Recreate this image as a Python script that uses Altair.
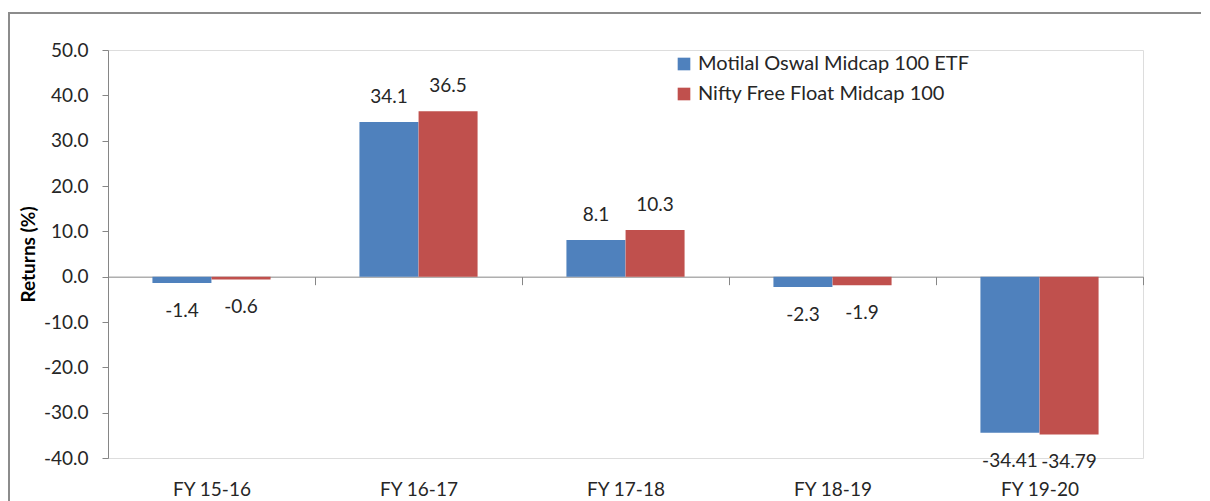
import altair as alt
import pandas as pd

categories = ["FY 15-16", "FY 16-17", "FY 17-18", "FY 18-19", "FY 19-20"]
series_names = ["Motilal Oswal Midcap 100 ETF", "Nifty Free Float Midcap 100"]
etf_values = [-1.4, 34.1, 8.1, -2.3, -34.41]
index_values = [-0.6, 36.5, 10.3, -1.9, -34.79]
etf_labels = ["-1.4", "34.1", "8.1", "-2.3", "-34.41"]
index_labels = ["-0.6", "36.5", "10.3", "-1.9", "-34.79"]
y_ticks = [-40, -30, -20, -10, 0, 10, 20, 30, 40, 50]
colors = ["#4F81BD", "#C0504D"]

rows = []
for i, c in enumerate(categories):
    rows.append({"cat": c, "series": series_names[0], "value": etf_values[i], "label": etf_labels[i]})
    rows.append({"cat": c, "series": series_names[1], "value": index_values[i], "label": index_labels[i]})
df = pd.DataFrame(rows)

FONT = "Lato"
W, H = 1035, 408
zero_px = H * 50 / 90.0

x_enc = alt.X(
    "cat:N", sort=categories, title=None,
    scale=alt.Scale(paddingInner=0, paddingOuter=0),
    axis=alt.Axis(
        orient="bottom", offset=-(H - zero_px), domainColor="#868686", domainWidth=1,
        tickColor="#868686", tickSize=8, tickBand="extent", labelAngle=0,
        labelPadding=196, labelFontSize=19, labelColor="#262626", labelFont=FONT,
    ),
)
xo_enc = alt.XOffset("series:N", sort=series_names,
                     scale=alt.Scale(paddingInner=0, paddingOuter=0.75))
y_enc = alt.Y(
    "value:Q", title="Returns (%)",
    scale=alt.Scale(domain=[-40, 50], nice=False, zero=False),
    axis=alt.Axis(
        values=y_ticks, grid=False, domainColor="#868686",
        labelExpr="datum.value < 0 ? '-' + format(-datum.value, '.1f') : format(datum.value, '.1f')",
        tickColor="#868686", tickSize=6, labelPadding=14, labelFontSize=19,
        labelColor="#262626", labelFont=FONT, titleFont=FONT, titleFontSize=19,
        titleFontWeight="bold", titleColor="#000000", titlePadding=5,
    ),
)
color_enc = alt.Color(
    "series:N", sort=series_names, title=None,
    scale=alt.Scale(domain=series_names, range=colors),
    legend=alt.Legend(
        orient="none", legendX=566, legendY=4, symbolType="square",
        symbolSize=160, symbolStrokeWidth=0, labelFontSize=20, labelFont=FONT,
        labelColor="#262626", rowPadding=10, symbolOffset=0, labelOffset=4,
        labelLimit=0,
    ),
)

base = alt.Chart(df)
bars = base.mark_bar(size=59).encode(x=x_enc, xOffset=xo_enc, y=y_enc, color=color_enc)

pos_text = base.transform_filter("datum.value >= 0").mark_text(
    baseline="middle", dy=-25, fontSize=19, font=FONT, color="#262626"
).encode(x=alt.X("cat:N", sort=categories), xOffset=xo_enc, y="value:Q", text="label:N")
neg_text = base.transform_filter("datum.value < 0").mark_text(
    baseline="middle", dy=28, fontSize=19, font=FONT, color="#262626"
).encode(x=alt.X("cat:N", sort=categories), xOffset=xo_enc, y="value:Q", text="label:N")

frame = alt.Chart(alt.Data(values=[{"a": 1}])).mark_rect(
    fill=None, stroke="#8c8c8c", strokeWidth=2, clip=False
).encode(x=alt.value(-99), x2=alt.value(1200), y=alt.value(-37), y2=alt.value(700))

chart = alt.layer(frame, bars, pos_text, neg_text).properties(
    width=W, height=H,
    padding={"left": 100, "top": 42, "right": 58, "bottom": 60},
    autosize=alt.AutoSizeParams(type="none"),
).configure_view(stroke=None).configure(font=FONT)

chart.save("out.html", embed_options={"renderer": "svg", "actions": False})
